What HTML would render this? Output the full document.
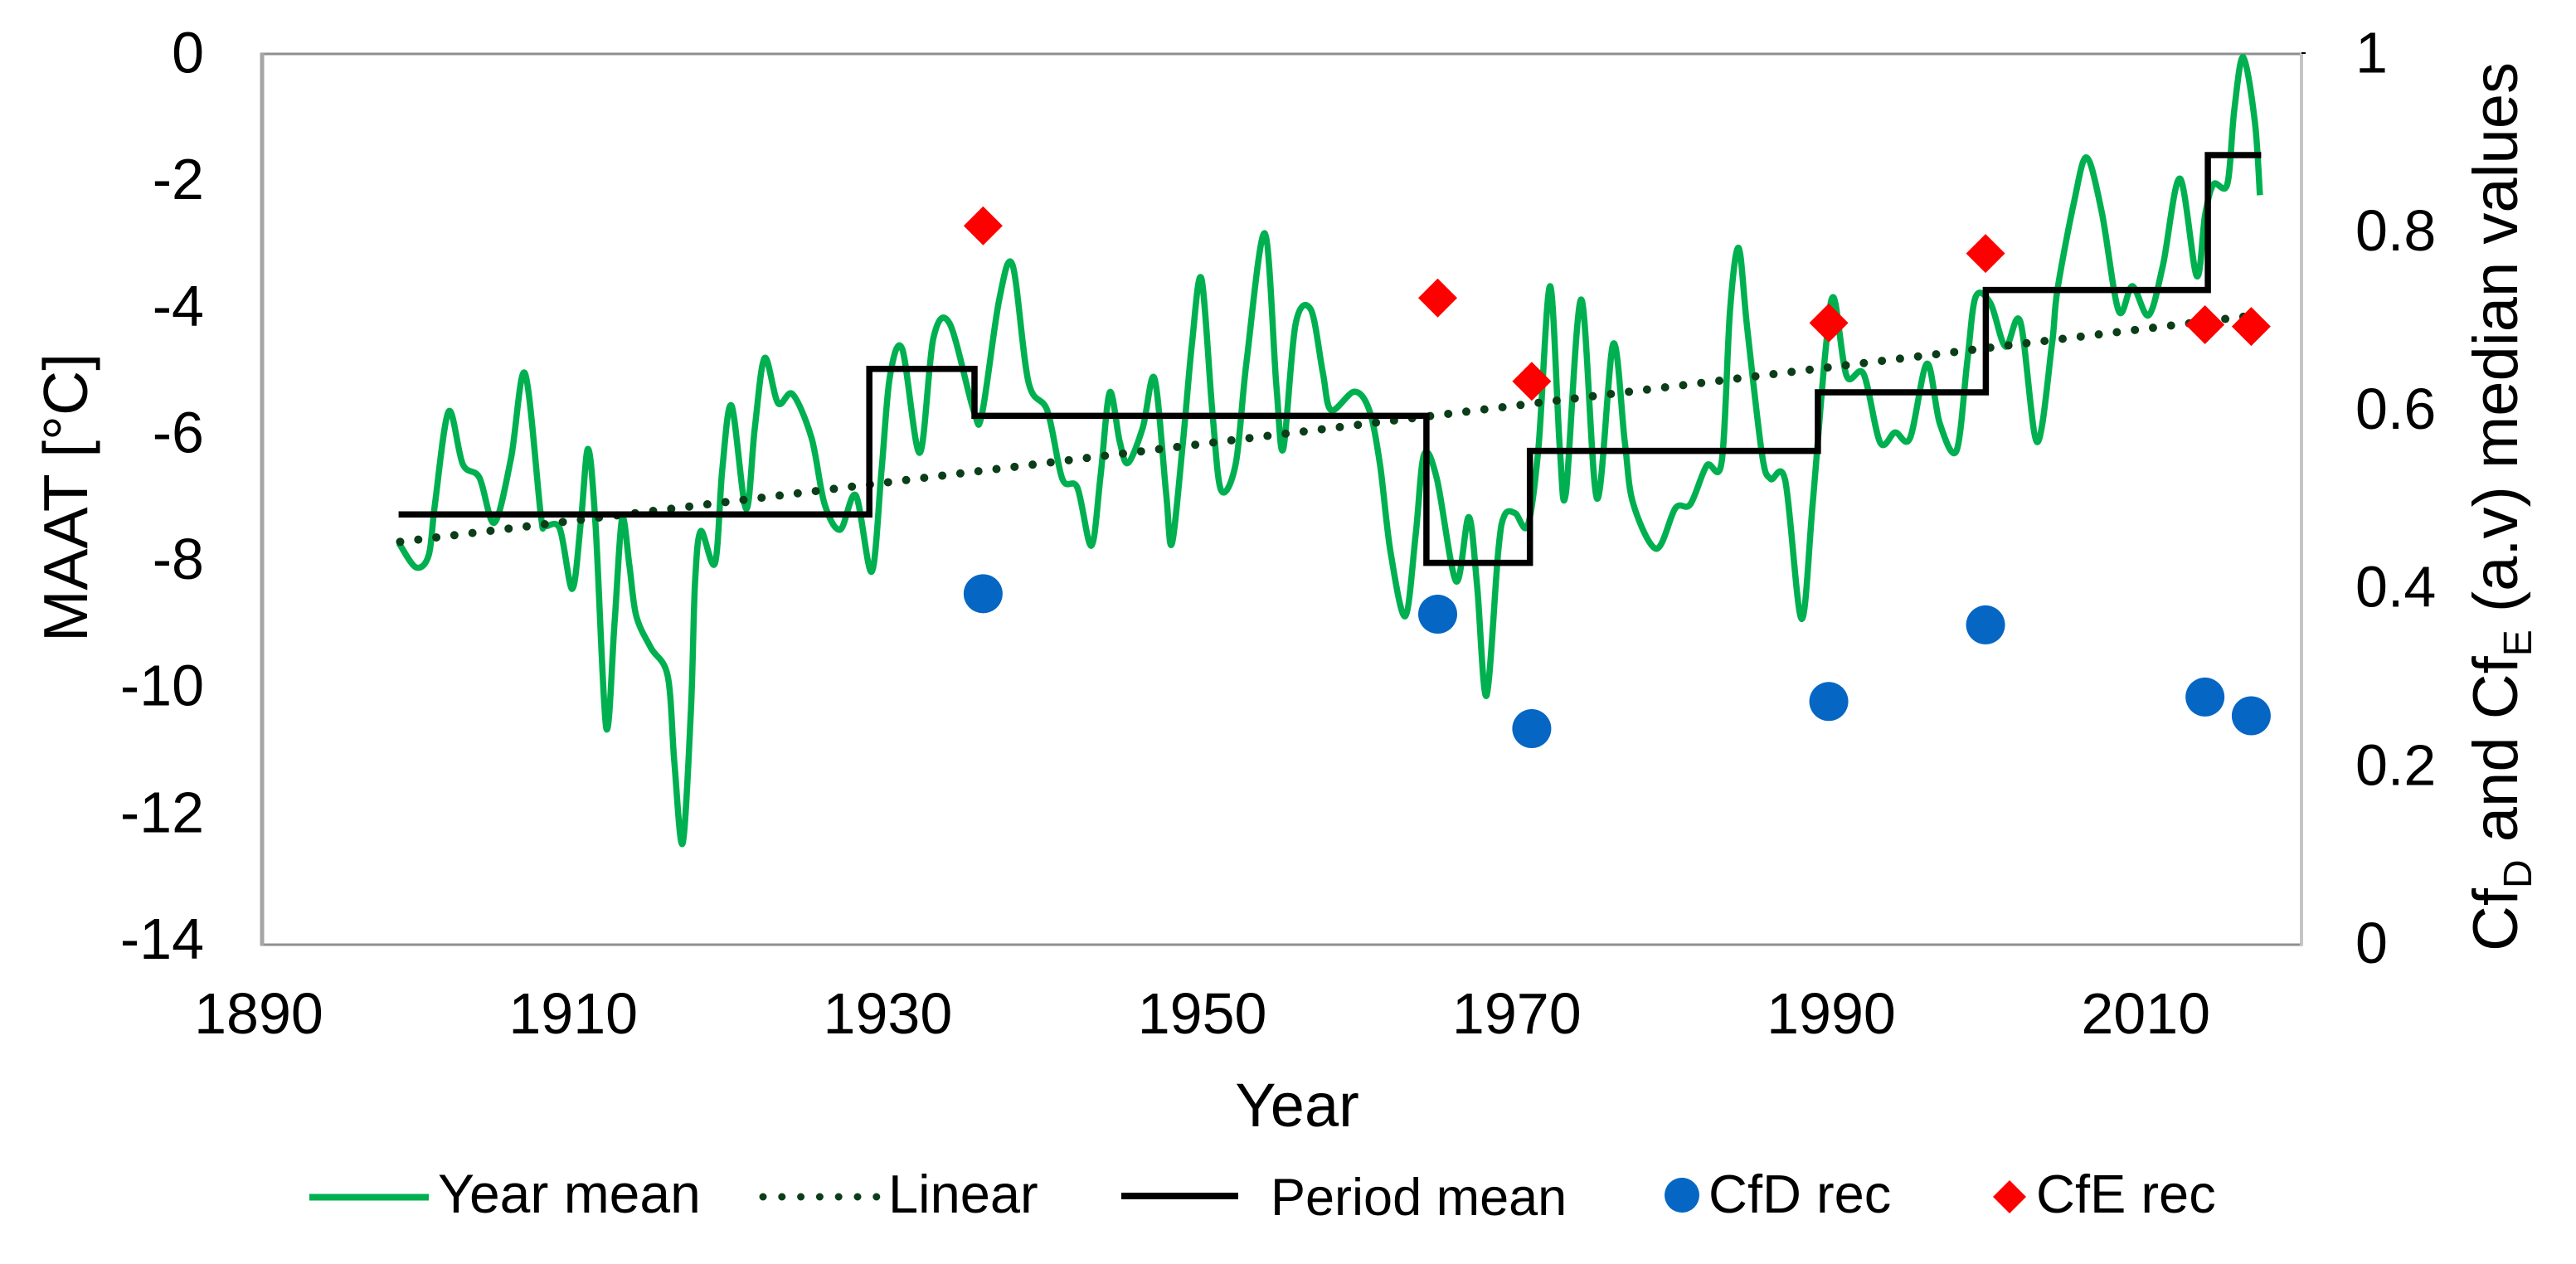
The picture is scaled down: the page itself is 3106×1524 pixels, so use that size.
<!DOCTYPE html>
<html lang="en">
<head>
<meta charset="utf-8">
<title>MAAT chart</title>
<style>
html,body{margin:0;padding:0;background:#fff;width:3106px;height:1524px;overflow:hidden}
svg{display:block}
text{font-family:"Liberation Sans",Arial,sans-serif;fill:#000}
</style>
</head>
<body>
<svg id="chart" xmlns="http://www.w3.org/2000/svg" width="3106" height="1524" viewBox="0 0 3106 1524">
  <rect x="0" y="0" width="3106" height="1524" fill="#fff"/>
  <g id="frame">
    <line x1="314" y1="65" x2="2776" y2="65" stroke="#8f8f8f" stroke-width="3"/>
    <line x1="314" y1="1139" x2="2776" y2="1139" stroke="#8f8f8f" stroke-width="3"/>
    <line x1="316" y1="64" x2="316" y2="1140" stroke="#a6a6a6" stroke-width="5"/>
    <line x1="2775" y1="64" x2="2775" y2="1140" stroke="#c4c4c4" stroke-width="4"/>
    <line x1="2775" y1="64" x2="2780" y2="64" stroke="#000" stroke-width="2"/>
  </g>
  <g id="series"></g>
  <g id="axes"></g>
  <text x="1564" y="1358" font-size="74" text-anchor="middle">Year</text>
  <text transform="translate(105,600) rotate(-90)" font-size="75" text-anchor="middle">MAAT [°C]</text>
  <text transform="translate(3035,1147) rotate(-90)" font-size="76">Cf<tspan font-size="48" dy="17">D</tspan><tspan dy="-17"> and Cf</tspan><tspan font-size="48" dy="17">E</tspan><tspan dy="-17"> (a.v) median values</tspan></text>
  <g id="legend">
    <g>
      <line x1="373" y1="1443.5" x2="517" y2="1443.5" stroke="#00b050" stroke-width="8"/>
      <text x="528" y="1462" font-size="66">Year mean</text>
    </g>
    <g>
      <line x1="920" y1="1443" x2="1060" y2="1443" stroke="#0b3d18" stroke-width="9" stroke-linecap="round" stroke-dasharray="0 22.8"/>
      <text x="1071" y="1462" font-size="65">Linear</text>
    </g>
    <g>
      <line x1="1352" y1="1442" x2="1493" y2="1442" stroke="#000" stroke-width="8"/>
      <text x="1532" y="1465" font-size="63">Period mean</text>
    </g>
    <g>
      <circle cx="2028" cy="1441" r="21" fill="#0566c4"/>
      <text x="2060" y="1462" font-size="65">CfD rec</text>
    </g>
    <g>
      <polygon points="2403,1443 2423,1423 2443,1443 2423,1463" fill="#ff0000"/>
      <text x="2455" y="1462" font-size="65">CfE rec</text>
    </g>
  </g>
</svg>
<script>
const xTickLabels = [1890, 1910, 1930, 1950, 1970, 1990, 2010];
const leftTickLabels = [0, -2, -4, -6, -8, -10, -12, -14];
const rightTickLabels = ['1', '0.8', '0.6', '0.4', '0.2', '0'];

const yearMeanYears = [1898.72,1899.8,1900.62,1901.02,1901.89,1902.79,1903.85,1904.8,1905.86,1906.75,1907.76,1908.02,1908.97,1909.77,1910.32,1910.77,1911.25,1911.93,1912.46,1912.94,1913.41,1913.84,1914.79,1915.85,1916.27,1916.8,1917.33,1917.59,1917.96,1918.86,1919.33,1919.92,1920.84,1921.4,1922.03,1922.88,1923.81,1925.02,1925.84,1926.84,1927.84,1928.85,1929.48,1930.01,1930.8,1931.91,1932.78,1933.82,1935.35,1935.88,1936.97,1937.83,1938.84,1940.05,1941,1941.96,1942.85,1943.44,1944.02,1944.65,1945.18,1946.13,1946.87,1947.61,1947.98,1948.69,1949.25,1949.86,1950.57,1951.12,1952.05,1952.74,1953.9,1954.64,1955.08,1955.86,1956.84,1957.6,1958.13,1959.61,1960.56,1961.25,1961.91,1962.85,1963.52,1964.05,1964.87,1966.09,1966.9,1967.43,1968.03,1968.78,1969.18,1969.86,1970.66,1971.34,1972.08,1972.7,1973.09,1974.07,1975.07,1976.1,1976.84,1977.37,1978.85,1980.07,1981.02,1982.07,1983.02,1983.55,1984.1,1984.64,1985.59,1986.13,1987.07,1988.1,1988.82,1989.63,1990.16,1990.98,1992.06,1993.12,1994.07,1995.02,1996.1,1996.92,1997.98,1998.67,1999.2,2000.15,2001.1,2002.05,2003.11,2004.06,2004.41,2005.48,2006.28,2007.25,2008.32,2009.19,2010.22,2011.14,2012.22,2013.29,2013.82,2014.36,2015.24,2015.68,2016.26,2017,2017.32];
const yearMeanValues = [-7.69,-8.07,-7.88,-7.07,-5.62,-6.45,-6.66,-7.37,-6.36,-5.02,-7.24,-7.42,-7.46,-8.41,-7.34,-6.21,-7.39,-10.59,-8.96,-7.31,-8.04,-8.83,-9.34,-9.78,-11.12,-12.41,-10.31,-8.32,-7.5,-8.01,-6.53,-5.53,-7.15,-5.88,-4.78,-5.49,-5.35,-6.04,-7.07,-7.48,-6.94,-8.14,-6.53,-5.07,-4.64,-6.27,-4.47,-4.24,-5.61,-5.66,-3.87,-3.32,-5.16,-5.61,-6.68,-6.82,-7.73,-6.62,-5.32,-6.09,-6.43,-5.87,-5.1,-6.9,-7.7,-6.09,-4.58,-3.53,-5.66,-6.86,-6.44,-4.84,-2.82,-5.22,-6.21,-4.25,-4.02,-5.01,-5.6,-5.31,-5.6,-6.47,-7.82,-8.84,-7.55,-6.3,-6.68,-8.29,-7.28,-8.36,-10.09,-7.82,-7.25,-7.22,-7.41,-6.19,-3.65,-6.19,-6.9,-3.86,-6.99,-4.56,-6.09,-7.06,-7.78,-7.14,-7.08,-6.47,-6.41,-4.03,-3.05,-4.3,-6.3,-6.68,-6.71,-8.88,-7.06,-4.68,-3.83,-5.06,-5.03,-6.11,-5.95,-6.04,-4.87,-5.81,-6.24,-4.84,-3.82,-3.92,-4.6,-4.21,-6.1,-4.58,-3.72,-2.32,-1.63,-2.5,-4.04,-3.65,-4.11,-3.32,-1.96,-3.49,-2.54,-2.05,-2.05,-0.89,-0.05,-1.07,-2.22];

const trendYears = [1898.8, 2017.3];
const trendValues = [-7.67, -4.1];

const periodEdges = [1898.7, 1928.7, 1935.4, 1964.2, 1970.8, 1989.15, 1999.85, 2014, 2017.4];
const periodValues = [-7.24, -4.95, -5.69, -8.0, -6.24, -5.32, -3.71, -1.59];

const recYears = [1936, 1965, 1971, 1989.95, 1999.95, 2013.95, 2016.9];
const cfdValues = [0.394, 0.371, 0.2425, 0.273, 0.359, 0.278, 0.257];
const cfeValues = [0.807, 0.726, 0.6325, 0.698, 0.776, 0.696, 0.694];

const NS = 'http://www.w3.org/2000/svg';
const xScale = y => 316 + (y - 1890) * 18.92;
const recX = y => 316 + (y - 1890) * 18.9;
const leftScale = v => 65 - v * 76.7;
const rightScale = v => 1139 - v * 1074;
const xLabelX = y => 312 + (y - 1890) * 18.96;
const leftLabelY = v => 87.5 - (v / 14) * 1068.5;
const rightLabelY = v => 1161 - v * 1073.5;

function make(tag, attrs) {
  const el = document.createElementNS(NS, tag);
  for (const k in attrs) el.setAttribute(k, attrs[k]);
  return el;
}

const seriesG = document.getElementById('series');
const axesG = document.getElementById('axes');

function smoothPath(pts) {
  const t = 0.16;
  let d = 'M' + pts[0][0].toFixed(1) + ' ' + pts[0][1].toFixed(1);
  for (let i = 0; i < pts.length - 1; i++) {
    const p0 = pts[Math.max(0, i - 1)], p1 = pts[i], p2 = pts[i + 1], p3 = pts[Math.min(pts.length - 1, i + 2)];
    const c1x = p1[0] + (p2[0] - p0[0]) * t, c1y = p1[1] + (p2[1] - p0[1]) * t;
    const c2x = p2[0] - (p3[0] - p1[0]) * t, c2y = p2[1] - (p3[1] - p1[1]) * t;
    d += 'C' + c1x.toFixed(1) + ' ' + c1y.toFixed(1) + ' ' + c2x.toFixed(1) + ' ' + c2y.toFixed(1) + ' ' + p2[0].toFixed(1) + ' ' + p2[1].toFixed(1);
  }
  return d;
}

const greenLine = make('path', {d: smoothPath(yearMeanYears.map((y, i) => [xScale(y), leftScale(yearMeanValues[i])])), fill: 'none', stroke: '#00b050', 'stroke-width': 7.5, 'stroke-linejoin': 'round'});


seriesG.appendChild(greenLine);

const trendLine = make('line', {x1: xScale(trendYears[0]), y1: leftScale(trendValues[0]), x2: xScale(trendYears[1]), y2: leftScale(trendValues[1]), stroke: '#0b3d18', 'stroke-width': 10, 'stroke-linecap': 'round', 'stroke-dasharray': '0 21.95'});


seriesG.appendChild(trendLine);

let stepD = '';
periodValues.forEach((v, i) => {
  stepD += (i === 0 ? 'M' : 'L') + xScale(periodEdges[i]).toFixed(1) + ' ' + leftScale(v).toFixed(1);
  stepD += 'L' + xScale(periodEdges[i + 1]).toFixed(1) + ' ' + leftScale(v).toFixed(1);
});
const stepLine = make('path', {d: stepD, fill: 'none', stroke: '#000', 'stroke-width': 7.5, 'stroke-linejoin': 'miter'});


seriesG.appendChild(stepLine);

recYears.forEach((y, i) => {
  const c = make('circle', {cx: recX(y), cy: rightScale(cfdValues[i]), r: 23.5, fill: '#0566c4'});
  
  
  seriesG.appendChild(c);
});
recYears.forEach((y, i) => {
  const cx = recX(y), cy = rightScale(cfeValues[i]), h = 23.5;
  const p = make('polygon', {points: (cx - h) + ',' + cy + ' ' + cx + ',' + (cy - h) + ' ' + (cx + h) + ',' + cy + ' ' + cx + ',' + (cy + h), fill: '#ff0000'});
  
  
  seriesG.appendChild(p);
});

xTickLabels.forEach(y => {
  const t = make('text', {x: xLabelX(y), y: 1246, 'font-size': 70, 'text-anchor': 'middle'});
  
  
  t.textContent = y;
  axesG.appendChild(t);
});
leftTickLabels.forEach(v => {
  const t = make('text', {x: 246, y: leftLabelY(v), 'font-size': 70, 'text-anchor': 'end'});
  
  
  t.textContent = v;
  axesG.appendChild(t);
});
rightTickLabels.forEach(v => {
  const t = make('text', {x: 2840, y: rightLabelY(parseFloat(v)), 'font-size': 70});
  
  
  t.textContent = v;
  axesG.appendChild(t);
});
</script>
</body>
</html>
